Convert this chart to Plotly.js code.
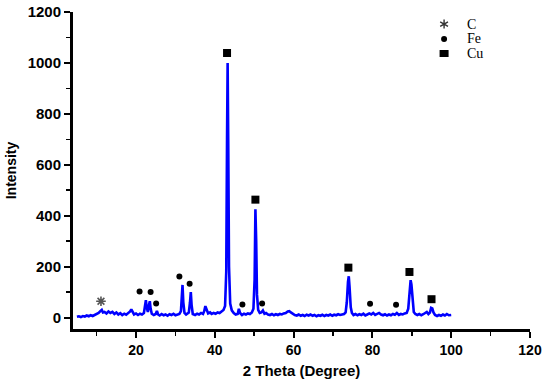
<!DOCTYPE html>
<html>
<head>
<meta charset="utf-8">
<script src="https://cdn.plot.ly/plotly-3.0.1.min.js"></script>
<style>html,body{margin:0;padding:0;background:#fff;}#chart{width:550px;height:386px;}</style>
</head>
<body>
<div id="chart"></div>
<script>
// XRD pattern: 2 Theta (degree) vs intensity
const twoTheta = [5.0,5.5,6.0,6.5,7.0,7.5,8.0,8.5,9.0,9.5,10.0,10.5,11.0,11.3,11.6,12.0,12.5,13.0,13.5,14.0,14.5,15.0,15.5,16.0,16.5,17.0,17.5,18.0,18.5,18.8,19.1,19.5,20.0,20.5,21.0,21.5,22.0,22.3,22.5,22.7,23.0,23.3,23.5,23.7,24.0,24.5,25.0,25.3,25.6,26.0,26.5,27.0,27.5,28.0,28.5,29.0,29.5,30.0,30.5,31.0,31.4,31.6,31.8,32.0,32.3,32.7,33.0,33.4,33.7,33.9,34.1,34.4,35.0,35.5,36.0,36.5,37.0,37.3,37.6,37.9,38.3,38.8,39.2,39.7,40.2,40.7,41.2,41.7,42.2,42.6,42.9,43.1,43.25,43.4,43.6,43.9,44.3,44.8,45.3,45.8,46.1,46.4,46.9,47.4,47.9,48.4,48.9,49.4,49.8,50.1,50.3,50.5,50.7,51.0,51.4,51.8,52.2,52.6,53.0,53.5,54.0,54.5,55.0,55.5,56.0,56.5,57.0,57.5,58.0,58.5,58.9,59.3,59.8,60.3,60.8,61.3,61.8,62.3,62.8,63.3,63.8,64.3,64.8,65.3,65.8,66.3,66.8,67.3,67.8,68.3,68.8,69.3,69.8,70.3,70.8,71.3,71.8,72.3,72.8,73.2,73.5,73.8,74.0,74.2,74.5,74.8,75.2,75.7,76.2,76.7,77.2,77.7,78.2,78.7,79.2,79.7,80.2,80.7,81.2,81.7,82.2,82.7,83.2,83.7,84.2,84.7,85.2,85.7,86.2,86.7,87.2,87.7,88.2,88.7,89.1,89.4,89.7,89.9,90.2,90.5,90.9,91.4,91.9,92.4,92.9,93.4,93.8,94.2,94.6,94.9,95.2,95.5,95.9,96.4,96.9,97.4,97.9,98.4,98.9,99.4,100.0];
const intensity = [3,5,2,6,4,8,5,9,6,10,14,18,26,30,20,22,16,24,18,22,14,20,12,17,10,15,11,16,24,32,22,12,16,10,15,12,18,45,68,40,22,50,64,35,15,10,14,26,12,8,14,9,12,7,13,10,15,9,12,14,25,70,128,60,18,12,15,20,60,100,50,14,10,15,12,18,14,25,45,28,16,20,14,18,15,20,18,24,30,45,180,700,1000,700,200,55,28,18,12,14,34,18,10,15,12,16,14,20,35,150,425,300,90,30,18,20,28,15,18,12,10,14,9,13,10,14,12,16,18,24,25,20,14,10,8,12,7,10,6,11,8,12,7,10,5,9,7,11,6,10,8,12,7,11,9,13,10,12,14,20,60,140,162,120,40,18,10,14,9,13,10,15,8,12,16,12,18,10,14,18,12,9,13,8,12,9,14,11,18,10,14,12,16,18,35,90,147,130,60,22,14,10,14,9,13,18,22,14,20,38,36,20,10,6,10,7,12,8,14,9,10];

// Phase markers placed above peaks
const cX = [11.1];
const cY = [64];
const feX = [20.9,23.7,25.1,31.0,33.6,47.0,52.0,79.4,86.0];
const feY = [102,100,55,161,133,51,55,54,50];
const cuX = [43.1,50.3,73.9,89.4,95.0];
const cuY = [1039,463,196,179,72];

// Tick labels
const xTicks = [20,40,60,80,100,120];
const xMinor = [10,30,50,70,90,110];
const yTicks = [0,200,400,600,800,1000,1200];
const yMinor = [100,300,500,700,900,1100];

const legendLabels = ['C','Fe','Cu'];

const traces = [
  {x: twoTheta, y: intensity, type: 'scatter', mode: 'lines',
   line: {color: '#0000ff', width: 2.6}, hoverinfo: 'skip', showlegend: false},
  {x: cX, y: cY, type: 'scatter', mode: 'markers', showlegend: false,
   marker: {symbol: 'asterisk-open', size: 8, color: '#555555', line: {color: '#555555', width: 1.6}}},
  {x: feX, y: feY, type: 'scatter', mode: 'markers', showlegend: false,
   marker: {symbol: 'circle', size: 6, color: '#000000'}},
  {x: cuX, y: cuY, type: 'scatter', mode: 'markers', showlegend: false,
   marker: {symbol: 'square', size: 8, color: '#000000'}}
];

// Legend (top right): glyphs as shapes, labels as annotations
const legX = 0.812;
const legY = [0.962, 0.915, 0.869];
const annotations = legendLabels.map((t, i) => ({
  xref:'paper', yref:'paper', x:0.858, y:legY[i], xanchor:'left', yanchor:'middle',
  text: t, showarrow:false, font:{family:'Liberation Serif', size:14, color:'#000'}
}));
const shapes = [
  {type:'path', xref:'paper', yref:'paper', xsizemode:'pixel', ysizemode:'pixel', xanchor:legX, yanchor:legY[0],
   path:'M0,-4.5L0,4.5M-3.9,-2.25L3.9,2.25M-3.9,2.25L3.9,-2.25', line:{color:'#333', width:1.4}},
  {type:'circle', xref:'paper', yref:'paper', xsizemode:'pixel', ysizemode:'pixel', xanchor:legX, yanchor:legY[1],
   x0:-3, x1:3, y0:-3, y1:3, fillcolor:'#000', line:{width:0}},
  {type:'rect', xref:'paper', yref:'paper', xsizemode:'pixel', ysizemode:'pixel', xanchor:legX, yanchor:legY[2],
   x0:-4.5, x1:4.5, y0:-3.5, y1:3.5, fillcolor:'#000', line:{width:0}}
];

const tickFontX = {family: 'Liberation Sans', size: 14, color: '#000000', weight: 700};
const tickFontY = {family: 'Liberation Sans', size: 15, color: '#000000', weight: 700};
const layout = {
  width: 550, height: 386,
  margin: {l: 73, r: 20, t: 12, b: 57},
  paper_bgcolor: '#ffffff', plot_bgcolor: '#ffffff',
  showlegend: false,
  xaxis: {
    range: [4, 120], tickmode: 'array', tickvals: xTicks, ticktext: xTicks.map(v => '<b>' + v + '</b>'),
    ticks: 'outside', ticklen: 6, tickwidth: 2, tickcolor: '#000',
    minor: {tickvals: xMinor, ticks: 'outside', ticklen: 4, tickwidth: 1.5, tickcolor: '#000', showgrid: false},
    showline: true, linewidth: 3, linecolor: '#000', showgrid: false, zeroline: false,
    tickfont: tickFontX,
    title: {text: '<b>2 Theta (Degree)</b>', font: {family: 'Liberation Sans', size: 15, color: '#000'}, standoff: 9},
    automargin: false
  },
  yaxis: {
    range: [-45, 1200], tickmode: 'array', tickvals: yTicks, ticktext: yTicks.map(v => '<b>' + v + '</b>'),
    ticks: 'outside', ticklen: 6, tickwidth: 2, tickcolor: '#000',
    minor: {tickvals: yMinor, ticks: 'outside', ticklen: 4, tickwidth: 1.5, tickcolor: '#000', showgrid: false},
    showline: true, linewidth: 3, linecolor: '#000', showgrid: false, zeroline: false,
    tickfont: tickFontY,
    title: {text: '<b>Intensity</b>', font: {family: 'Liberation Sans', size: 14, color: '#000'}, standoff: 8},
    automargin: false
  },
  annotations: annotations,
  shapes: shapes
};

Plotly.newPlot('chart', traces, layout, {displayModeBar: false, staticPlot: true});
</script>
</body>
</html>
